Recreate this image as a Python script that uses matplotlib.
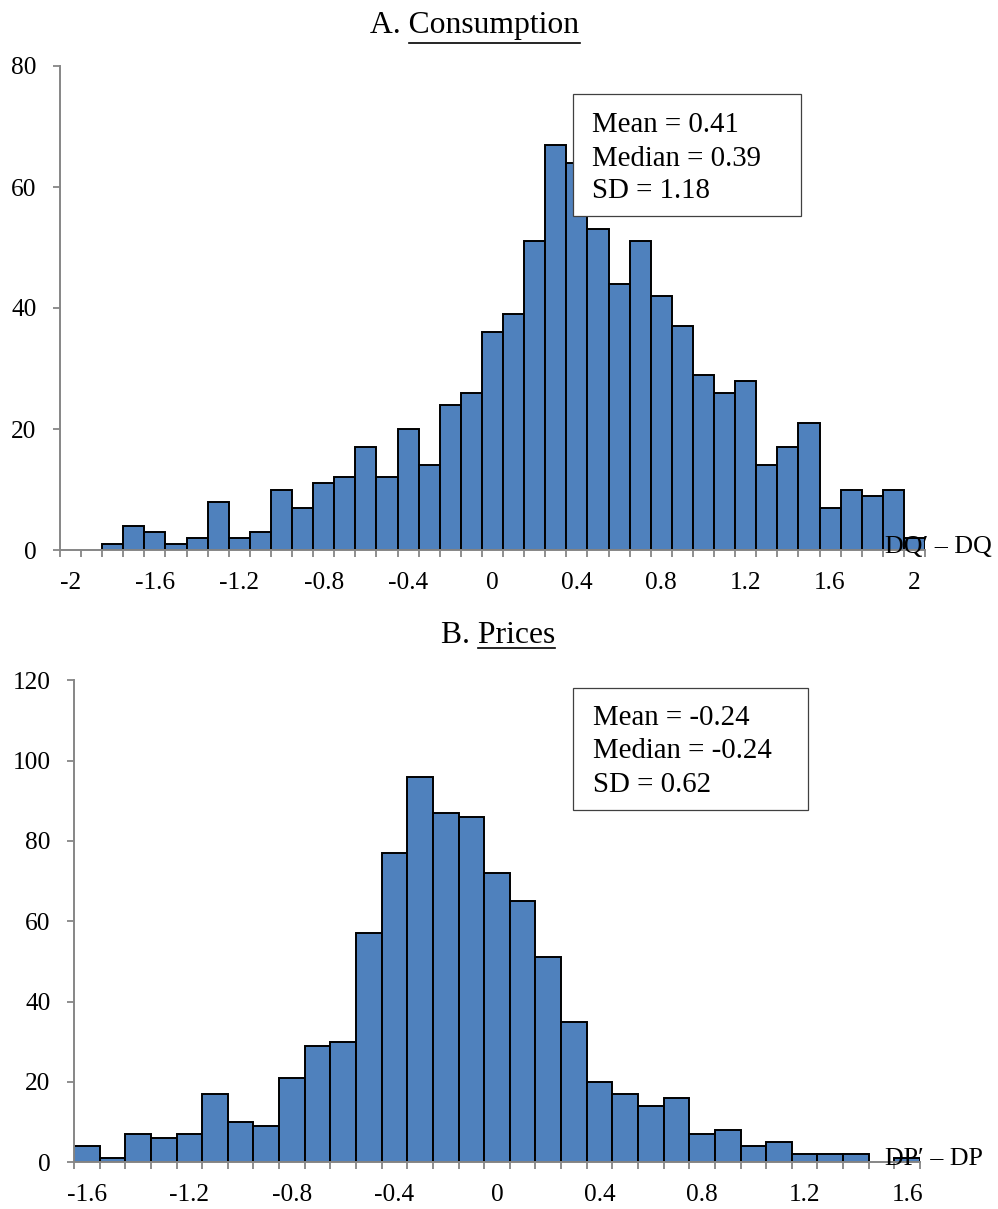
import matplotlib
matplotlib.use("Agg")
import matplotlib.pyplot as plt
from matplotlib.patches import Rectangle
from matplotlib.lines import Line2D
from matplotlib.ticker import FixedLocator

plt.rcParams["font.family"] = ["Liberation Serif", "DejaVu Serif"]

# ---- data -------------------------------------------------------------
consumption_bins = [-2.0, -1.9, -1.8, -1.7, -1.6, -1.5, -1.4, -1.3, -1.2, -1.1,
                    -1.0, -0.9, -0.8, -0.7, -0.6, -0.5, -0.4, -0.3, -0.2, -0.1,
                    0.0, 0.1, 0.2, 0.3, 0.4, 0.5, 0.6, 0.7, 0.8, 0.9,
                    1.0, 1.1, 1.2, 1.3, 1.4, 1.5, 1.6, 1.7, 1.8, 1.9, 2.0]
consumption_counts = [0, 0, 1, 4, 3, 1, 2, 8, 2, 3,
                      10, 7, 11, 12, 17, 12, 20, 14, 24, 26,
                      36, 39, 51, 67, 64, 53, 44, 51, 42, 37,
                      29, 26, 28, 14, 17, 21, 7, 10, 9, 10, 2]
consumption_ticks = [-2.0, -1.6, -1.2, -0.8, -0.4, 0.0, 0.4, 0.8, 1.2, 1.6, 2.0]
consumption_ticklabels = ["-2", "-1.6", "-1.2", "-0.8", "-0.4", "0",
                          "0.4", "0.8", "1.2", "1.6", "2"]
consumption_stats = ["Mean = 0.41", "Median = 0.39", "SD = 1.18"]

price_bins = [-1.6, -1.5, -1.4, -1.3, -1.2, -1.1, -1.0, -0.9, -0.8, -0.7,
              -0.6, -0.5, -0.4, -0.3, -0.2, -0.1, 0.0, 0.1, 0.2, 0.3,
              0.4, 0.5, 0.6, 0.7, 0.8, 0.9, 1.0, 1.1, 1.2, 1.3, 1.4, 1.5, 1.6]
price_counts = [4, 1, 7, 6, 7, 17, 10, 9, 21, 29,
                30, 57, 77, 96, 87, 86, 72, 65, 51, 35,
                20, 17, 14, 16, 7, 8, 4, 5, 2, 2, 2, 0, 1]
price_ticks = [-1.6, -1.2, -0.8, -0.4, 0.0, 0.4, 0.8, 1.2, 1.6]
price_ticklabels = ["-1.6", "-1.2", "-0.8", "-0.4", "0", "0.4", "0.8", "1.2", "1.6"]
price_stats = ["Mean = -0.24", "Median = -0.24", "SD = 0.62"]

BIN_WIDTH = 0.1

# ---- styling ----------------------------------------------------------
W, H = 998, 1209
BAR_BLUE = "#4F81BD"
AXIS_GRAY = "#868686"
TICK_SIZE = 18.3
STAT_SIZE = 20.8
TITLE_SIZE = 22.8
XLABEL_SIZE = 18.7

fig = plt.figure(figsize=(W / 100, H / 100), dpi=100)


def fx(px):
    return px / W


def fy(py):
    return 1 - py / H


def make_axes(left, right, top, bottom):
    return fig.add_axes([fx(left), fy(bottom), (right - left) / W, (bottom - top) / H])


def draw_hist(ax, centers, counts, ymax, ystep, ticks, ticklabels):
    xs = [c for c, n in zip(centers, counts) if n > 0]
    hs = [n for n in counts if n > 0]
    ax.bar(xs, hs, width=BIN_WIDTH, color=BAR_BLUE, edgecolor="black",
           linewidth=1.4, zorder=2)
    lo = centers[0] - BIN_WIDTH / 2
    hi = centers[-1] + BIN_WIDTH / 2
    ax.set_xlim(lo, hi)
    ax.set_ylim(0, ymax)
    edges = [c - BIN_WIDTH / 2 for c in centers] + [hi]
    ax.xaxis.set_minor_locator(FixedLocator(edges))
    ax.set_xticks(ticks)
    ax.set_xticklabels(ticklabels)
    ax.tick_params(axis="x", which="major", length=0, pad=15.5, labelsize=TICK_SIZE)
    ax.tick_params(axis="x", which="minor", length=5, width=1.3, color=AXIS_GRAY,
                   direction="out")
    ax.set_yticks(list(range(0, ymax + 1, ystep)))
    ax.tick_params(axis="y", length=4.8, width=1.3, color=AXIS_GRAY, pad=12,
                   labelsize=TICK_SIZE, direction="out")
    for side in ("top", "right"):
        ax.spines[side].set_visible(False)
    for side in ("left", "bottom"):
        ax.spines[side].set_color(AXIS_GRAY)
        ax.spines[side].set_linewidth(1.4)
        ax.spines[side].set_zorder(3)
    ax.patch.set_alpha(0)


def stats_box(x0, y0, x1, y1, text_x, baselines, lines):
    rect = Rectangle((fx(x0), fy(y1)), (x1 - x0) / W, (y1 - y0) / H,
                     transform=fig.transFigure, facecolor="white",
                     edgecolor="#404040", linewidth=0.9, zorder=4)
    fig.add_artist(rect)
    for b, s in zip(baselines, lines):
        fig.text(fx(text_x), fy(b), s, ha="left", va="baseline",
                 fontsize=STAT_SIZE, zorder=5)


def underlined_title(cx, baseline, prefix, word, under_y):
    full = fig.text(fx(cx), fy(baseline), prefix + word, ha="center",
                    va="baseline", fontsize=TITLE_SIZE)
    probe = fig.text(0, 0, word, fontsize=TITLE_SIZE)
    renderer = fig.canvas.get_renderer()
    fb = full.get_window_extent(renderer)
    wb = probe.get_window_extent(renderer)
    probe.remove()
    x1 = fb.x1
    x0 = x1 - wb.width
    fig.add_artist(Line2D([x0 / W, x1 / W], [fy(under_y)] * 2,
                          transform=fig.transFigure, color="black", lw=1.2))


# ---- panel A: consumption --------------------------------------------
ax_a = make_axes(60, 925, 66, 550)
draw_hist(ax_a, consumption_bins, consumption_counts, 80, 20,
          consumption_ticks, consumption_ticklabels)
fig.text(fx(885), fy(553), "DQ\u2032 \u2013 DQ", ha="left", va="baseline",
         fontsize=XLABEL_SIZE, zorder=5)
stats_box(572.7, 94.4, 801, 215.6, 592, [132.5, 165.5, 198.5], consumption_stats)

# ---- panel B: prices --------------------------------------------------
ax_b = make_axes(74, 920, 680.3, 1162.3)
draw_hist(ax_b, price_bins, price_counts, 120, 20, price_ticks, price_ticklabels)
fig.text(fx(885), fy(1165), "DP\u2032 \u2013 DP", ha="left", va="baseline",
         fontsize=XLABEL_SIZE, zorder=5)
stats_box(572.7, 688, 808.3, 809.7, 593, [725, 758.5, 792.5], price_stats)

# ---- titles -----------------------------------------------------------
fig.canvas.draw()
underlined_title(475, 33.3, "A. ", "Consumption", 42.5)
underlined_title(498, 643.3, "B. ", "Prices", 648.3)

fig.savefig("out.png", dpi=100)
